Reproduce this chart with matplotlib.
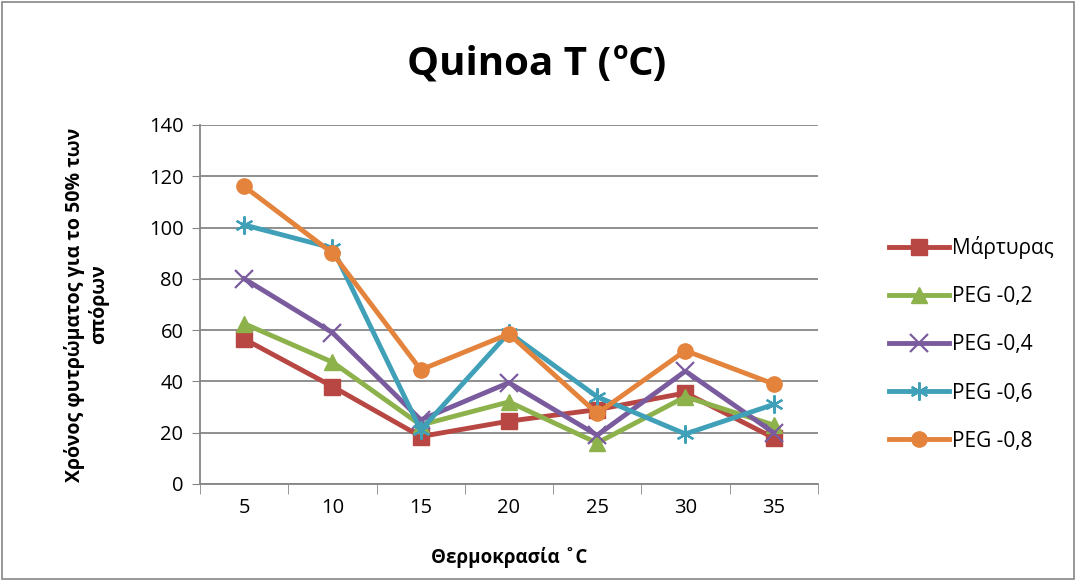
import matplotlib
matplotlib.use('Agg')
import matplotlib.pyplot as plt
from matplotlib.patches import Rectangle

plt.rcParams['font.family'] = ['Open Sans', 'DejaVu Sans']

temps = [5, 10, 15, 20, 25, 30, 35]
martyras = [56.5, 38, 18.5, 24.5, 29, 35.5, 18]
peg_02 = [62.5, 47.5, 23, 32, 16, 34, 23]
peg_04 = [80, 59, 25, 39.5, 19, 44, 20]
peg_06 = [101, 92, 21, 59, 34, 19.5, 31]
peg_08 = [116, 90, 44.5, 58.5, 27.5, 52, 39]

names = ['Μάρτυρας', 'PEG -0,2', 'PEG -0,4', 'PEG -0,6', 'PEG -0,8']
series = [martyras, peg_02, peg_04, peg_06, peg_08]
colors = ['#B84743', '#8DB24C', '#7A5C9E', '#3FA0B8', '#E4833C']
markers = ['s', '^', 'x', (6, 2, 0), 'o']

fig = plt.figure(figsize=(10.76, 5.81), dpi=100)
ax = fig.add_axes([0.186, 0.167, 0.574, 0.618])

for ys, nm, c, m in zip(series, names, colors, markers):
    if m in ('x', (6, 2, 0)):
        ax.plot(temps, ys, color=c, lw=3.5, marker=m, markersize=13,
                markeredgewidth=1.6, label=nm)
    else:
        ax.plot(temps, ys, color=c, lw=3.5, marker=m, markersize=11,
                label=nm)

ax.set_xlim(2.5, 37.5)
ax.set_ylim(0, 140)
ax.set_xticks(temps)
ax.set_xticks([2.5 + 5 * i for i in range(8)], minor=True)
ax.set_yticks(range(0, 141, 20))
ax.tick_params(axis='x', which='major', length=0, labelsize=14.5, pad=10)
ax.tick_params(axis='x', which='minor', length=7, color='#868686', direction='out')
ax.tick_params(axis='y', length=6, color='#868686', labelsize=14.5, pad=6)
ax.grid(axis='y', color='#868686', lw=1.3)
ax.set_axisbelow(True)
for s in ['top', 'right']:
    ax.spines[s].set_visible(False)
for s in ['left', 'bottom']:
    ax.spines[s].set_color('#868686')
    ax.spines[s].set_linewidth(1.3)

ax.set_xlabel('Θερμοκρασία ˚C', fontsize=13.5, fontweight='bold')
ax.xaxis.set_label_coords(0.5, -0.175)
ax.set_ylabel('Χρόνος φυτρώματος για το 50% των\nσπόρων', fontsize=14,
              fontweight='bold')
ax.yaxis.set_label_coords(-0.148, 0.5)

# title with small raised "o"
fig.text(0.568, 0.871, 'Quinoa T (', fontsize=29, fontweight='bold', ha='right', va='baseline')
fig.text(0.5695, 0.899, 'o', fontsize=18, fontweight='bold', ha='left', va='baseline')
fig.text(0.5835, 0.871, 'C)', fontsize=29, fontweight='bold', ha='left', va='baseline')

ax.legend(loc='center left', bbox_to_anchor=(1.085, 0.39), frameon=False,
          fontsize=15, handlelength=2.9, labelspacing=1.3, handletextpad=0.1)

fig.patches.append(Rectangle((0.002, 0.003), 0.996, 0.994, transform=fig.transFigure,
                             fill=False, edgecolor='#868686', lw=1.2))

fig.savefig('out.png', dpi=100)
